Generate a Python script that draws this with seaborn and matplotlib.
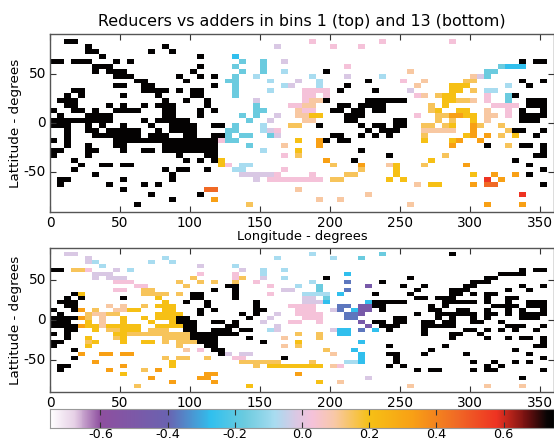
import numpy as np
import seaborn as sns
import matplotlib.pyplot as plt
from matplotlib.colors import LinearSegmentedColormap

plt.rcParams['axes.unicode_minus'] = False
plt.rcParams['font.family'] = ['DejaVu Sans']

# one letter per 5 degree cell, value looked up in cell_values, rows run from +90 down
cell_values = {'K': 0.74, 'r': 0.58, 'O': 0.46, 'o': 0.33, 'Y': 0.2, 'y': 0.15, 'e': 0.1, 'p': 0.03,
               'l': -0.02, 'b': -0.08, 'c': -0.17, 'C': -0.27, 'u': -0.37, 'v': -0.48}

bin1_rows = [
    "",
    "..KK.. ...... ...... ...... ...... ...... .p.... .....p ...... ...p..",
    ".....K ...... ....K. ...... ...... ..l... ....p. ..p...",
    ".....K K..... ..K..K",
    "...... .K.... ...... ...K.. ..C...",
    "KK.KKK ...K.K ...... ...... ...c.. c..l.. ...... ...... ...... ...... ...... .K.KK.",
    "...... KKK... ...... ...K.. ..c... c..... ...... p..... ...... ...... ....cC CC....",
    "...... K.KKK. ...... ..K... ...c.. c..b.. ...K.. ...... ...e.. ...... ..cc.. ......",
    "...... ...KKK ...... K..K.K ..c..b ...... .b.... l....b ...... ...... elc... ......",
    "...... ...... KK.... .K.... .cc... .b...l ..b... ...K.. ..p..e .....y y..... .K..K.",
    "...... ...KK. .KK... .....K ..c... ...bl. ..b... K..... ....e. ...YYY .....b ..K...",
    "...KK. ...... .KKKK. K.KK.. ..c... .b.... pppp.K ....K. ...l.. ...YY. y.bb.. ......",
    "..K.K. ....K. ...K.. ..KK.. ..c... ...... pp.p.. ...... ....pe .yYY.. ..p..c K.....",
    ".KKK.. ...... ....K. .K..K. .....l ...... peeK.. ...KKK KKK... ..YYyy e.p..c ..KKK.",
    "..KK.. ..K.K. .K.KKK ....K. .....c ....pp ee...K K.KKKK ...... y.Y... ...ppp p.KKK.",
    "K..KK. K..KKK K...KK ...K.K .....c c....e pp..KK .KK.KK ...... yY..YY ..e..p .K..K.",
    ".K...K KKK... ....KK ...K.. ...c.c ..l..e eYY... KKK... ....p. .yyooY Y.ee.p .KKKK.",
    "KKKKKK KKK... .K.KKK KK.... ....c. .l.... ee.... KK.... .KK... .y.y.. Y.e... .KKK..",
    "KKK..K .K..K. ..K..K KKK..K K.c... b...yy ..K... ..K.KK .KK..y y.yY.. oy..y. ......",
    "..K..K K.KKKK K..K.K KKK... .cc... blp... ...... ...K.K KK...e eeee.. o....y KK..K.",
    "..K... KKKKKK K.KKK. .KK..K Kc.cc. .cl... ....KK ..K.K. K....y .....Y o.o.y. Y..K..",
    "K.K... ...KKK KKKKKK KKKKKK pcc... .....Y ..oK.K K..... .....Y ...Yo. .o.... ......",
    "..K..K ...KK. ....KK KKKKKK ....c. ...e.. ..o... ...... ...... ...o.. ..K..y .KK.K.",
    "KK...K K...K. .KK.KK KKKKKK ...... b....Y ...... ..K... ...... ...... ...... ....K.",
    "K....K ...... ...... K...KK ...... ...p.y ...... ...... K..... ..y... ...... ...KK.",
    "...K.. ...... ...... .K.K.K Y..... ...... ...o.. .K.... ...... Y..... ...... K.....",
    "....K. .KK.KK ...... ...... Yp.bb. ...... ....y. ..o... eY...y .....o ...... ..K...",
    "...K.. ...... ....K. KK..K. ..bb.. ...p.. ...... ..y... .Y.... ...... ...... ....K.",
    "...... K..... .....K ...... ...lll llp... .p.... yy.... .Y.... ...... Y..o.. o.K...",
    ".KK... ....K. .....K ...... .....l .ppppp ppp.yy ...... Y.Y... ...... ..r.o. ......",
    ".K.... ..K... .K.K.. ...... ...... ...... ...... ...... ....e. YY.... o.OO.. ....K.",
    "...... ....K. ...... ....OO ...... .....e",
    "...... ...... ..K... ...K.. ...... ...... ...... ...e.. ...... ...... ...... .r....",
    "...... ...... .....K .....o ...... ...... ..e..e",
    "...... ...... K..... ...... ....y. ...... ...... ...... ...e.. ...... ..o... .o....",
    "",
]

bin13_rows = [
    "",
    "..ll.. ...... ...... ...... ...... ...... .b.... .....c ...... ...K..",
    ".....l ...... ....b. ...... ...... ..b... ....b. ..c...",
    ".....l b..... ..b..b",
    "...... .b.... ...... ...l.. ..b...",
    "KK.yyp ...l.b ...... ...... ...l.. b..b.. ...... ...... ...... ...... ...... .K.KK.",
    "...... lll... ...... ...p.. ..p... b..... ...... C..... ...... ...... ....KK KK....",
    "...... l.lll. ...... ..y... ..py.. l..b.. ...K.. ...... ...K.. ...... ..KK.. ......",
    "...... ...ppp ...... y..y.y ..y..p ...... .b.... u....K ...... ...... KKK... ......",
    "...... ...... pp.... .y.... .KK... .p...b ..c... ...v.. ..K..K .....K K..... .K..K.",
    "...... ...pp. .yy... .....K ..K... ...ll. ..c... u..... ....K. ...KKK .....K ..K...",
    "...KY. ...... .yyyy. y.KK.. ..K... .p.... bbbb.C ....K. ...K.. ...KK. K.KK.. ......",
    "..K.K. ....K. ...Y.. ..KK.. ..K... ...... ll.c.. ...... ....KK .KKK.. ..K..K K.....",
    ".KKK.. ...... ....Y. .K..K. .....K ...... lllC.. ...CKK KKK... ..KKKK K.K..K ..KKK.",
    "..KK.. ..e.e. .y.YYY ....K. .....K ....pp pp...u u.vvKK ...... K.K... ...KKK K.KKK.",
    "K..Ko. y..eeY Y...YY ...K.K .....K K....p pp..lu .Cvv.K ...... KK..KK ..K..K .K..K.",
    ".K...y eeyy.. ...YYY Y..K.. ...K.K ..l..p ppp... uuv... ....K. .KKKKK K.KK.K .KKKK.",
    "KKKKoy .e..Y. .Y.YYY KK.... ....K. .l.... ppp... uu.... .KK... .K.K.. K.K... .KKK..",
    "KKK..Y .e..Y. ..Y..Y KKK..K K.K... l...pp ..p... ..v.KK .KK..K K.KK.. KK..K. ......",
    "KKKKoY YeYYYY Y..YYY YKK... .KK... ..l... ...... ...v.K KK...K KKKK.. .....K KK..K.",
    "..KK.. Y.yyYY Y.yyy. .KK..K KK.KK. .bl... ....lC C.u.C. K....K .....K K.K.K. K..K..",
    "K.K... ...YYy yyyyyy yyKKKK KKK... .....y ..y..C C..... .....K ...KK. .K.... ......",
    "..K..Y ...yY. ....yy yyKKKK ....K. ...e.. ..y... ...... ...... ...K.. ..K..K .KK.K.",
    "KK...y Y...Y. .YY.y. yyyKKK ...... K....Y ...... ..C... ...... ...... ...... ....K.",
    "K....Y ...... ...... y...KK ...... ...e.y ...... ...... K..... ..K... ...... ...KK.",
    "...K.. ...... ...... .e.p.K K..... ...... ...y.. .C.... ...... K..... ...... K.....",
    "....o. .oo.oo ...... ...... Kl.ll. ...... ....e. ..C... KK...K .....K ...... ..K...",
    "...K.. ...... ....y. yy..y. ..pp.. ...K.. ...... ..C... .K.... ...... ...... ....K.",
    "...... o..... .....Y ...... ...yyy yyy... .y.... bbC... .K.... ...... K..K.. K.K...",
    ".KK... ....o. .....Y ...... .....y .YYYYY YYY.ep ...... K.K... ...... ..K.K. ......",
    ".K.... ..o... .y.o.. ...... ...... ...... ...... ...... ....K. KK.... K.KK.. ....K.",
    "...... ....Y. ...... ....oo ...... .....o",
    "...... ...... ..o... ...oo. ...... ...... ...... ...l.. ...... ...... ...... .K....",
    "...... ...... .....o .....o ...... ...... ..Y..e",
    "...... ...... y..... ...... ....Y. ...... ...... ...... ...e.. ...... ..e... .e....",
    "",
]

lon_ticks = [0, 50, 100, 150, 200, 250, 300, 350]
lat_ticks = [50, 0, -50]
cbar_ticks = [-0.6, -0.4, -0.2, 0.0, 0.2, 0.4, 0.6]

# colour scale
cbar_stops = [(-0.75, '#ffffff'), (-0.68, '#e6d0e6'), (-0.6, '#8e4f9f'), (-0.4, '#6a62b0'), (-0.27, '#30c0ee'),
              (-0.17, '#6ccbdf'), (-0.08, '#a8dcf0'), (-0.02, '#d8c8e4'), (0.03, '#f5c2da'), (0.1, '#f8c8a4'),
              (0.2, '#f6c015'), (0.33, '#f8a015'), (0.46, '#f06a25'), (0.58, '#ee3322'), (0.67, '#701010'),
              (0.73, '#0a0505'), (0.75, '#000000')]


def to_grid(rows):
    grid = np.full((36, 72), np.nan)
    for i, row in enumerate(rows):
        for j, ch in enumerate(row.replace(' ', '').ljust(72, '.')):
            if ch in cell_values:
                grid[i, j] = cell_values[ch]
    return grid


def style_map(ax):
    ax.set_xticks([t / 5 for t in lon_ticks])
    ax.set_xticklabels([str(t) for t in lon_ticks], rotation=0)
    ax.set_yticks([(90 - t) / 5 for t in lat_ticks])
    ax.set_yticklabels([str(t) for t in lat_ticks], rotation=0)
    ax.tick_params(direction='in', top=True, right=True, length=4, labelsize=9.8, pad=3, color='#333333')
    for s in ax.spines.values():
        s.set_visible(True)
        s.set_color('#555555')
        s.set_linewidth(1.0)
    ax.set_ylabel('Lattitude - degrees', fontsize=9.7)
    ax.yaxis.set_label_coords(-28 / 504, 0.5)


W, H = 554, 443
fig = plt.figure(figsize=(W / 100, H / 100), dpi=100)
ax_top = fig.add_axes([50 / W, 1 - 212 / H, 504 / W, 178 / H])
ax_bot = fig.add_axes([50 / W, 1 - 392 / H, 504 / W, 144 / H])
ax_bar = fig.add_axes([50 / W, 1 - 428 / H, 504 / W, 19 / H])

cmap = LinearSegmentedColormap.from_list(
    'reducers', [((v + 0.75) / 1.5, c) for v, c in cbar_stops], N=512)

sns.heatmap(to_grid(bin1_rows), ax=ax_top, cmap=cmap, vmin=-0.75, vmax=0.75, cbar=False)
sns.heatmap(to_grid(bin13_rows), ax=ax_bot, cmap=cmap, vmin=-0.75, vmax=0.75,
            cbar_ax=ax_bar, cbar_kws={'orientation': 'horizontal', 'ticks': cbar_ticks})

style_map(ax_top)
style_map(ax_bot)
ax_top.set_title('Reducers vs adders in bins 1 (top) and 13 (bottom)', fontsize=11.4, pad=6)
ax_top.set_xlabel('Longitude - degrees', fontsize=9.4, labelpad=0)

ax_bar.tick_params(direction='in', top=True, length=4, labelsize=9.2, color='#333333', pad=0)
for s in ax_bar.spines.values():
    s.set_visible(True)
    s.set_color('#999999')

fig.savefig('out.png', dpi=100)
plt.close()
